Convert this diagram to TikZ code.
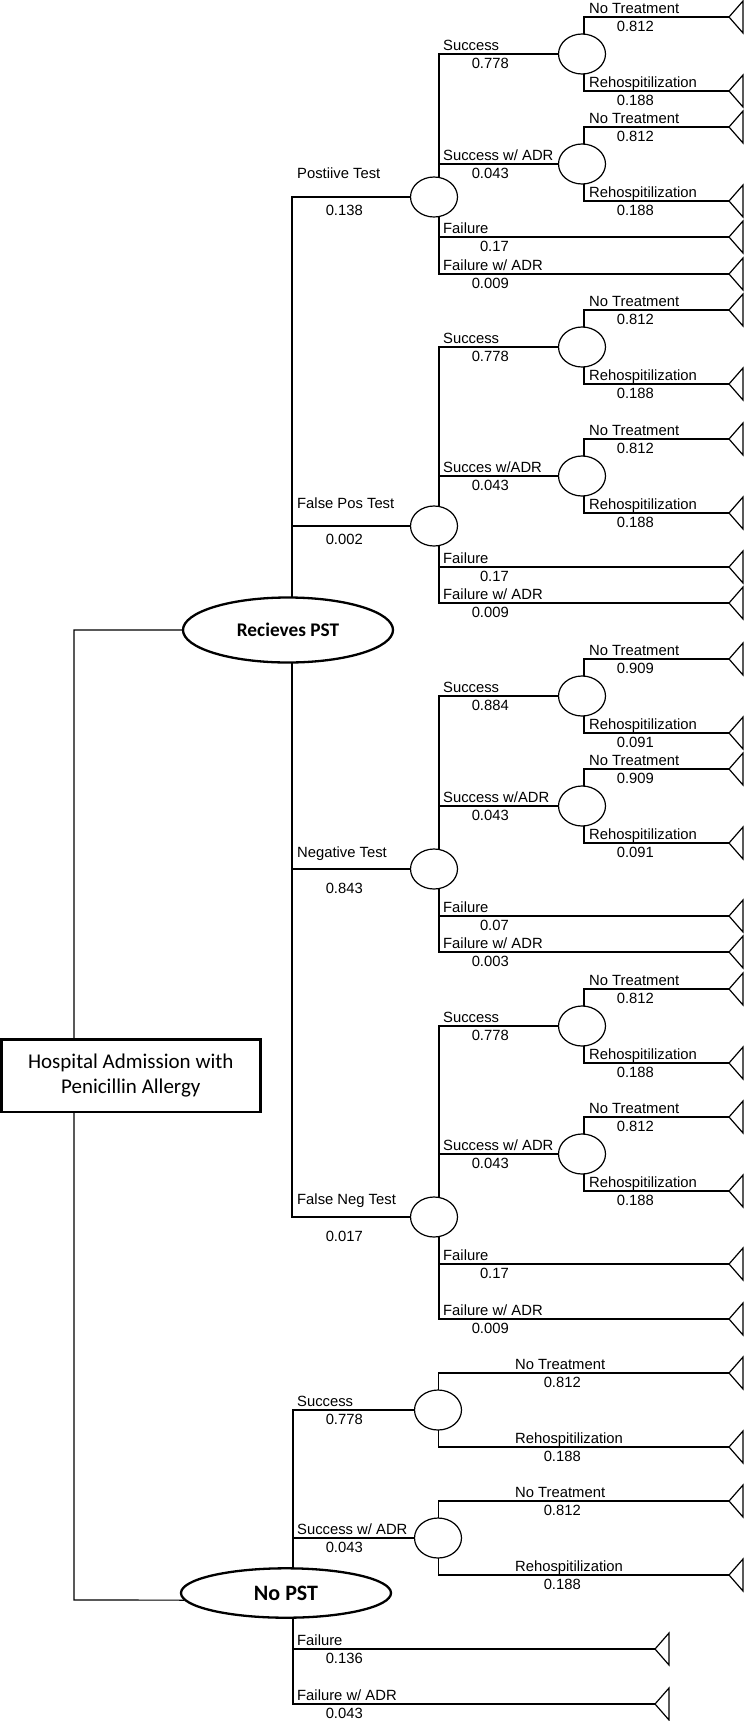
\documentclass[tikz,border=0pt]{standalone}
\usepackage{fontspec}
\setmainfont{Liberation Sans}
\newfontfamily\calibri{Carlito}
\usetikzlibrary{shapes.geometric,backgrounds}
\newcounter{lbc}
\tikzset{
  conn/.style={line width=1.2pt},
  chance/.style={ellipse, draw, line width=1.2pt, fill=white, minimum width=47pt, minimum height=40pt, inner sep=0pt},
  decision/.style={ellipse, draw, line width=2.3pt, fill=white, minimum width=210pt, inner sep=0pt, font=\calibri\bfseries\fontsize{19.3}{23}\selectfont},
  rootbox/.style={rectangle, draw, line width=2.7pt, fill=white, minimum width=259pt, minimum height=72.4pt, inner sep=0pt, align=center, font=\calibri\fontsize{21}{25}\selectfont},
  lbl/.style={inner sep=0pt, font=\fontsize{14.8}{17}\selectfont},
  terminal/.pic={\draw[line width=1.2pt, line join=miter] (0,0) -- (14,-16) -- (14,16) -- cycle;},
}
\newcommand\BranchLab[5]{%
  \stepcounter{lbc}%
  \node[lbl, anchor=base west] (lab\arabic{lbc}) at (#1,#3-3.7) {#4};%
  \node[lbl, anchor=base east] (prob\arabic{lbc}) at (#2,#3+14.3) {#5};%
}
\newcommand\SubTree[4]{%
  \node[chance] (#1) at (\dtCX,#2) {};
  \coordinate (#1-t) at (\dtTX,#2-37);
  \coordinate (#1-b) at (\dtTX,#2+37);
  \pic at (#1-t) {terminal};
  \pic at (#1-b) {terminal};
  \begin{scope}[on background layer]
    \draw[conn] (#1-t) -- (\dtVX,#2-37) -- (\dtVX,#2+37) -- (#1-b);
  \end{scope}
  \BranchLab{\dtLX}{\dtRX}{#2-37}{No Treatment}{#3}%
  \BranchLab{\dtLX}{\dtRX}{#2+37}{Rehospitilization}{#4}%
}
\begin{document}
\begin{tikzpicture}[x=1pt,y=-1pt]
\useasboundingbox (0,0) rectangle (744,1721);
% root and decisions
\node[rootbox] (root) at (130.8,1075.8) {Hospital Admission with\\Penicillin Allergy};
\node[decision, minimum height=65pt] (rec) at (288,630) {Recieves PST};
\node[decision, minimum height=49.4pt, font=\calibri\bfseries\fontsize{22}{26}\selectfont] (nopst) at (286,1593) {No PST};
\coordinate (spT) at (74,630);
\coordinate (spB) at (74,1600);
\begin{scope}[on background layer]
  \draw[conn] (rec.west) -- (spT) -- (spB) -- (nopst.184);
\end{scope}
% PST test nodes
\node[chance] (pt) at (434,197) {};
\node[chance] (fp) at (434,526) {};
\node[chance] (nt) at (434,869) {};
\node[chance] (fn) at (434,1217) {};
\coordinate (v1a) at (292,197);
\coordinate (v1b) at (292,1217);
\begin{scope}[on background layer]
  \draw[conn] (pt.west) -- (v1a) -- (v1b) -- (fn.west);
  \draw[conn] (fp.west -| v1a) -- (fp.west);
  \draw[conn] (nt.west -| v1a) -- (nt.west);
\end{scope}
\node[lbl, anchor=base west] (ptl) at (297,178.3) {Postiive Test};
\node[lbl, anchor=base east] (ptp) at (363,215.3) {0.138};
\node[lbl, anchor=base west] (fpl) at (297,508.3) {False Pos Test};
\node[lbl, anchor=base east] (fpp) at (363,544.3) {0.002};
\node[lbl, anchor=base west] (ntl) at (297,857.3) {Negative Test};
\node[lbl, anchor=base east] (ntp) at (363,893.3) {0.843};
\node[lbl, anchor=base west] (fnl) at (297,1204.3) {False Neg Test};
\node[lbl, anchor=base east] (fnp) at (363,1241.3) {0.017};
% level 3 parameters for PST branch
\def\dtVX{584}\def\dtCX{582}\def\dtLX{589}\def\dtRX{654}\def\dtTX{729}
% Positive test
\SubTree{pt1}{54}{0.812}{0.188}
\SubTree{pt2}{164}{0.812}{0.188}
\coordinate (ptF) at (729,237); \coordinate (ptFA) at (729,274);
\pic at (ptF) {terminal}; \pic at (ptFA) {terminal};
\begin{scope}[on background layer]
  \draw[conn] (pt1.west) -- (439,54) -- (439,274) -- (ptFA);
  \draw[conn] (pt2.west) -- (439,164);
  \draw[conn] (439,237) -- (ptF);
\end{scope}
\BranchLab{443}{509}{54}{Success}{0.778}
\BranchLab{443}{509}{164}{Success w/ ADR}{0.043}
\BranchLab{443}{509}{237}{Failure}{0.17}
\BranchLab{443}{509}{274}{Failure w/ ADR}{0.009}
% False pos test
\SubTree{fp1}{347}{0.812}{0.188}
\SubTree{fp2}{476}{0.812}{0.188}
\coordinate (fpF) at (729,567); \coordinate (fpFA) at (729,603);
\pic at (fpF) {terminal}; \pic at (fpFA) {terminal};
\begin{scope}[on background layer]
  \draw[conn] (fp1.west) -- (439,347) -- (439,603) -- (fpFA);
  \draw[conn] (fp2.west) -- (439,476);
  \draw[conn] (439,567) -- (fpF);
\end{scope}
\BranchLab{443}{509}{347}{Success}{0.778}
\BranchLab{443}{509}{476}{Succes w/ADR}{0.043}
\BranchLab{443}{509}{567}{Failure}{0.17}
\BranchLab{443}{509}{603}{Failure w/ ADR}{0.009}
% Negative test
\SubTree{nt1}{696}{0.909}{0.091}
\SubTree{nt2}{806}{0.909}{0.091}
\coordinate (ntF) at (729,916); \coordinate (ntFA) at (729,952);
\pic at (ntF) {terminal}; \pic at (ntFA) {terminal};
\begin{scope}[on background layer]
  \draw[conn] (nt1.west) -- (439,696) -- (439,952) -- (ntFA);
  \draw[conn] (nt2.west) -- (439,806);
  \draw[conn] (439,916) -- (ntF);
\end{scope}
\BranchLab{443}{509}{696}{Success}{0.884}
\BranchLab{443}{509}{806}{Success w/ADR}{0.043}
\BranchLab{443}{509}{916}{Failure}{0.07}
\BranchLab{443}{509}{952}{Failure w/ ADR}{0.003}
% False neg test
\SubTree{fn1}{1026}{0.812}{0.188}
\SubTree{fn2}{1154}{0.812}{0.188}
\coordinate (fnF) at (729,1264); \coordinate (fnFA) at (729,1319);
\pic at (fnF) {terminal}; \pic at (fnFA) {terminal};
\begin{scope}[on background layer]
  \draw[conn] (fn1.west) -- (439,1026) -- (439,1319) -- (fnFA);
  \draw[conn] (fn2.west) -- (439,1154);
  \draw[conn] (439,1264) -- (fnF);
\end{scope}
\BranchLab{443}{509}{1026}{Success}{0.778}
\BranchLab{443}{509}{1154}{Success w/ ADR}{0.043}
\BranchLab{443}{509}{1264}{Failure}{0.17}
\BranchLab{443}{509}{1319}{Failure w/ ADR}{0.009}
% No PST branch
\def\dtVX{438.5}\def\dtCX{438}\def\dtLX{515}\def\dtRX{581}\def\dtTX{729}
\SubTree{np1}{1410}{0.812}{0.188}
\SubTree{np2}{1538}{0.812}{0.188}
\coordinate (npF) at (655,1649); \coordinate (npFA) at (655,1704);
\pic at (npF) {terminal}; \pic at (npFA) {terminal};
\begin{scope}[on background layer]
  \draw[conn] (np1.west) -- (293,1410) -- (293,1704) -- (npFA);
  \draw[conn] (np2.west) -- (293,1538);
  \draw[conn] (293,1649) -- (npF);
\end{scope}
\BranchLab{297}{363}{1410}{Success}{0.778}
\BranchLab{297}{363}{1538}{Success w/ ADR}{0.043}
\BranchLab{297}{363}{1649}{Failure}{0.136}
\BranchLab{297}{363}{1704}{Failure w/ ADR}{0.043}
\end{tikzpicture}
\end{document}
